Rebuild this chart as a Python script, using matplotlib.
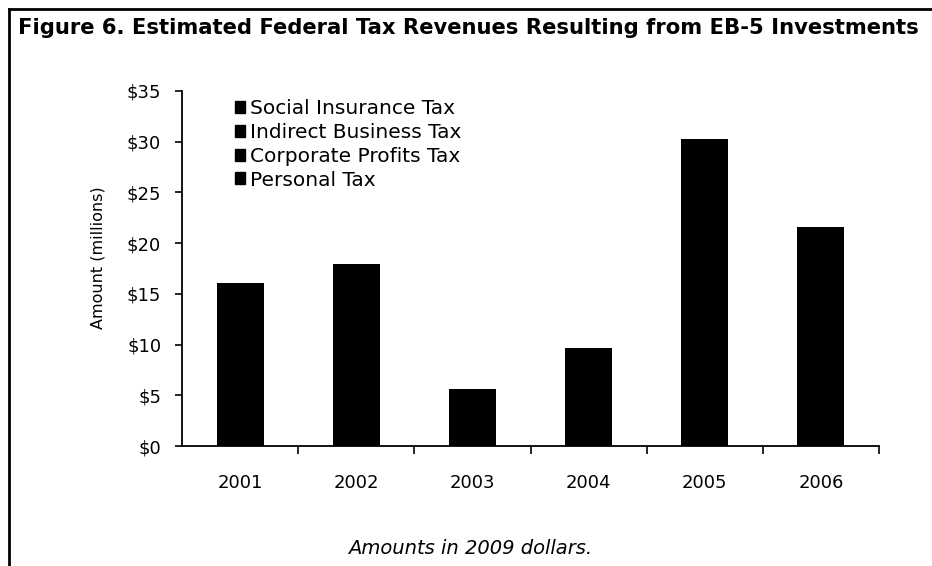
import matplotlib.pyplot as plt
from matplotlib.lines import Line2D
from matplotlib.patches import Patch

plt.rcParams["font.family"] = ["DejaVu Sans"]

years = ["2001", "2002", "2003", "2004", "2005", "2006"]
# the scan shows every segment in black; split of each total is estimated
personal_tax = [5.6, 6.2, 1.9, 3.4, 10.5, 7.5]
corporate_profits_tax = [2.4, 2.7, 0.9, 1.4, 4.6, 3.2]
indirect_business_tax = [2.3, 2.6, 0.8, 1.4, 4.4, 3.1]
social_insurance_tax = [5.8, 6.4, 2.0, 3.5, 10.8, 7.8]

series = [
    ("Personal Tax", personal_tax),
    ("Corporate Profits Tax", corporate_profits_tax),
    ("Indirect Business Tax", indirect_business_tax),
    ("Social Insurance Tax", social_insurance_tax),
]
legend_order = ["Social Insurance Tax", "Indirect Business Tax",
                "Corporate Profits Tax", "Personal Tax"]
y_ticks = [0, 5, 10, 15, 20, 25, 30, 35]

fig = plt.figure(figsize=(9.32, 5.66), dpi=100)
ax = fig.add_axes([182 / 932, 1 - 446 / 566, 697 / 932, 355 / 566])

x = range(len(years))
bottom = [0.0] * len(years)
for name, vals in series:
    ax.bar(x, vals, width=0.405, bottom=bottom, color="black", edgecolor="none", label=name)
    bottom = [b + v for b, v in zip(bottom, vals)]

ax.set_xlim(-0.5, len(years) - 0.5)
ax.set_ylim(0, 35)
ax.set_yticks(y_ticks)
ax.set_yticklabels([f"${v}" for v in y_ticks], fontsize=13)
ax.set_xticks([i + 0.5 for i in range(len(years))])
ax.set_xticklabels([])
ax.set_xticks(list(x), minor=True)
ax.set_xticklabels(years, minor=True, fontsize=13)
ax.tick_params(axis="x", which="minor", length=0, pad=20)
ax.tick_params(axis="x", which="major", length=6, width=1.2, direction="out")
ax.tick_params(axis="y", length=5, width=1.2, direction="out", pad=10)
for side in ["top", "right"]:
    ax.spines[side].set_visible(False)
ax.spines["left"].set_linewidth(1.3)
ax.spines["bottom"].set_linewidth(1.3)
ax.set_ylabel("Amount (millions)", fontsize=11.5, labelpad=15, y=0.53)

handles = [Patch(color="black", label=n) for n in legend_order]
ax.legend(handles=handles, loc="upper left", bbox_to_anchor=(0.065, 1.0), frameon=False,
          fontsize=14.5, handlelength=0.5, handleheight=0.55, handletextpad=0.25,
          labelspacing=0.24, borderaxespad=0)

fig.text(18 / 932, 1 - 34 / 566, "Figure 6. Estimated Federal Tax Revenues Resulting from EB-5 Investments",
         fontsize=15.2, fontweight="bold", va="baseline", ha="left")
fig.text(470 / 932, 1 - 548 / 566, "Amounts in 2009 dollars.", fontsize=14, style="italic",
         ha="center", va="center")

# page frame
fig.add_artist(Line2D([9 / 932, 9 / 932], [0, 1 - 9 / 566], color="black", lw=2,
                      transform=fig.transFigure))
fig.add_artist(Line2D([9 / 932, 1], [1 - 9 / 566, 1 - 9 / 566], color="black", lw=2,
                      transform=fig.transFigure))

fig.savefig("out.png", dpi=100)
